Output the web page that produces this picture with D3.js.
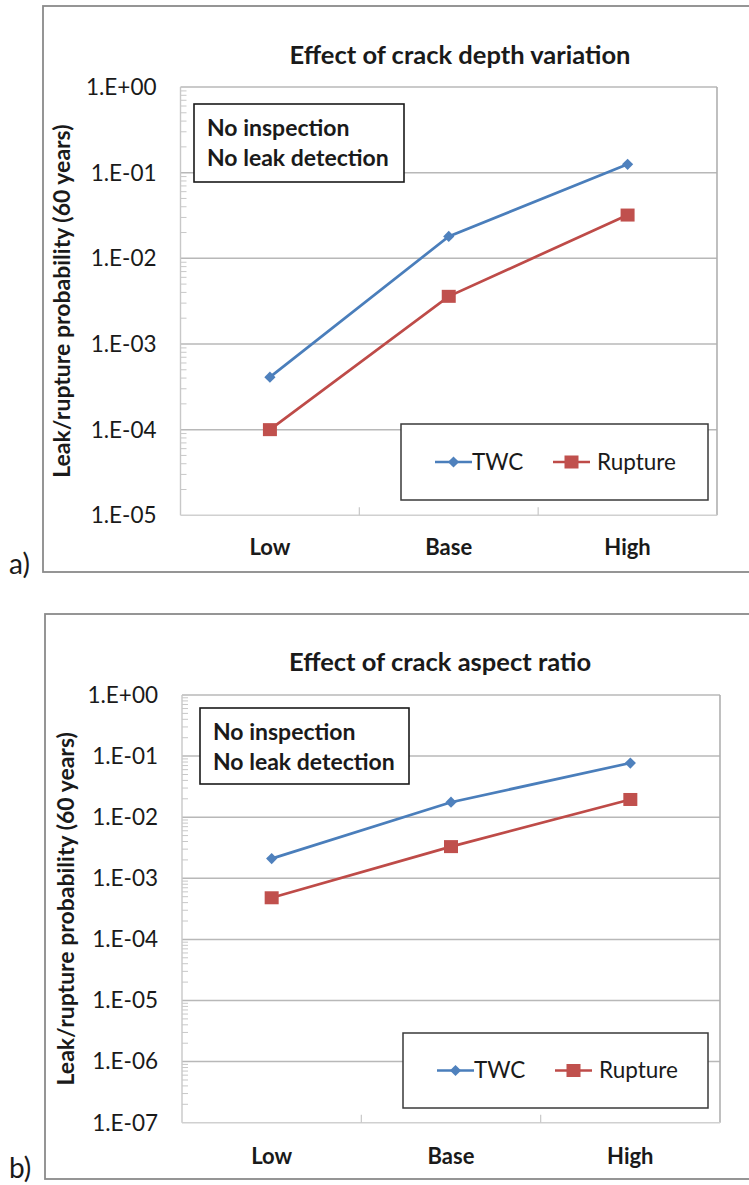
<!DOCTYPE html>
<html>
<head>
<meta charset="utf-8">
<script src="https://cdn.jsdelivr.net/npm/d3@7"></script>
<style>
  html, body { margin: 0; padding: 0; background: #fff; }
  svg { display: block; }
  text { font-family: Lato, "Open Sans", sans-serif; fill: #1a1a1a; }
</style>
</head>
<body>
<svg id="chart" width="749" height="1185"></svg>
<script>
// ---- data ----
const categories = ["Low", "Base", "High"];
const seriesNames = ["TWC", "Rupture"];

// a) Effect of crack depth variation
const twcDepth = [4.1e-4, 1.8e-2, 0.125];
const ruptureDepth = [1.0e-4, 3.6e-3, 0.032];
const yTicksA = [1, 1e-1, 1e-2, 1e-3, 1e-4, 1e-5];
const yLabelsA = ["1.E+00", "1.E-01", "1.E-02", "1.E-03", "1.E-04", "1.E-05"];

// b) Effect of crack aspect ratio
const twcAspect = [2.1e-3, 1.76e-2, 0.077];
const ruptureAspect = [4.8e-4, 3.3e-3, 0.0195];
const yTicksB = [1, 1e-1, 1e-2, 1e-3, 1e-4, 1e-5, 1e-6, 1e-7];
const yLabelsB = ["1.E+00", "1.E-01", "1.E-02", "1.E-03", "1.E-04", "1.E-05", "1.E-06", "1.E-07"];

const titles = ["Effect of crack depth variation", "Effect of crack aspect ratio"];
const yAxisTitle = "Leak/rupture probability (60 years)";
const noteLines = ["No inspection", "No leak detection"];
const panelLabels = ["a)", "b)"];

const colors = {
  twcLine: "#4a7ebb", twcMarker: "#4f81bd",
  rupLine: "#be4b48", rupMarker: "#c0504d"
};

const svg = d3.select("#chart");

function drawChart(cfg) {
  const g = svg.append("g");
  // outer frame
  g.append("rect")
    .attr("x", cfg.frame.x).attr("y", cfg.frame.y)
    .attr("width", cfg.frame.w).attr("height", cfg.frame.h)
    .attr("fill", "#fff").attr("stroke", "#8a8a8a").attr("stroke-width", 1.8);

  const x = d3.scaleBand().domain(categories).range([cfg.plot.left, cfg.plot.right]);
  const y = d3.scaleLog().domain([cfg.yTicks[cfg.yTicks.length - 1], cfg.yTicks[0]])
    .range([cfg.plot.bottom, cfg.plot.top]);

  // gridlines
  g.append("g").selectAll("line").data(cfg.yTicks.slice(0, -1)).join("line")
    .attr("x1", cfg.plot.left).attr("x2", cfg.plot.right)
    .attr("y1", d => y(d)).attr("y2", d => y(d))
    .attr("stroke", "#b8b8b8").attr("stroke-width", 1.5);

  // plot right border & axes
  g.append("line").attr("x1", cfg.plot.right).attr("x2", cfg.plot.right)
    .attr("y1", cfg.plot.top).attr("y2", cfg.plot.bottom)
    .attr("stroke", "#b0b0b0").attr("stroke-width", 1.6);
  g.append("line").attr("x1", cfg.plot.left).attr("x2", cfg.plot.left)
    .attr("y1", cfg.plot.top).attr("y2", cfg.plot.bottom)
    .attr("stroke", "#c8c8c8").attr("stroke-width", 1.4);
  g.append("line").attr("x1", cfg.plot.left).attr("x2", cfg.plot.right)
    .attr("y1", cfg.plot.bottom).attr("y2", cfg.plot.bottom)
    .attr("stroke", "#d0d0d0").attr("stroke-width", 1.6);

  // minor log ticks on y axis
  const minor = [];
  for (let i = 1; i < cfg.yTicks.length; i++) {
    const base = cfg.yTicks[i];
    for (let k = 2; k <= 9; k++) minor.push(base * k);
  }
  g.append("g").selectAll("line").data(minor).join("line")
    .attr("x1", cfg.plot.left).attr("x2", cfg.plot.left + 6)
    .attr("y1", d => y(d)).attr("y2", d => y(d))
    .attr("stroke", "#c8c8c8").attr("stroke-width", 1);

  // x-axis category separator ticks
  const seps = [categories[1], categories[2]];
  g.append("g").selectAll("line").data(seps).join("line")
    .attr("x1", d => x(d)).attr("x2", d => x(d))
    .attr("y1", cfg.plot.bottom - 8).attr("y2", cfg.plot.bottom)
    .attr("stroke", "#c8c8c8").attr("stroke-width", 1.2);

  // y tick labels
  g.append("g").selectAll("text").data(cfg.yTicks).join("text")
    .attr("x", cfg.plot.left - 24).attr("y", d => y(d))
    .attr("dy", "0.35em").attr("text-anchor", "end")
    .attr("font-size", 22.5)
    .text((d, i) => cfg.yLabels[i]);

  // x labels
  g.append("g").selectAll("text").data(categories).join("text")
    .attr("x", d => x(d) + x.bandwidth() / 2).attr("y", cfg.xLabelY)
    .attr("dy", "0.35em").attr("text-anchor", "middle")
    .attr("font-size", 22).attr("font-weight", "bold")
    .text(d => d);

  // title
  g.append("text").attr("x", cfg.titleX).attr("y", cfg.titleY)
    .attr("dy", "0.35em").attr("text-anchor", "middle")
    .attr("font-size", 25.5).attr("font-weight", "bold")
    .text(cfg.title);

  // y axis title
  g.append("text")
    .attr("transform", `translate(${cfg.yTitleX},${(cfg.plot.top + cfg.plot.bottom) / 2}) rotate(-90)`)
    .attr("dy", "0.35em").attr("text-anchor", "middle")
    .attr("font-size", 23).attr("font-weight", "bold")
    .text(yAxisTitle);

  // lines and markers
  const line = d3.line().x((d, i) => x(categories[i]) + x.bandwidth() / 2).y(d => y(d));
  g.append("path").datum(cfg.twc).attr("d", line)
    .attr("fill", "none").attr("stroke", colors.twcLine).attr("stroke-width", 2.7);
  g.append("path").datum(cfg.rup).attr("d", line)
    .attr("fill", "none").attr("stroke", colors.rupLine).attr("stroke-width", 2.7);

  const diamond = d3.symbol().type(d3.symbolDiamond2).size(80);
  g.append("g").selectAll("path").data(cfg.twc).join("path")
    .attr("d", diamond)
    .attr("transform", (d, i) => `translate(${x(categories[i]) + x.bandwidth() / 2},${y(d)})`)
    .attr("fill", colors.twcMarker);
  g.append("g").selectAll("rect").data(cfg.rup).join("rect")
    .attr("x", (d, i) => x(categories[i]) + x.bandwidth() / 2 - 7)
    .attr("y", d => y(d) - 6.5)
    .attr("width", 14).attr("height", 13)
    .attr("fill", colors.rupMarker);

  // note box
  const nb = cfg.note;
  g.append("rect").attr("x", nb.x).attr("y", nb.y).attr("width", nb.w).attr("height", nb.h)
    .attr("fill", "#fff").attr("stroke", "#1a1a1a").attr("stroke-width", 1.6);
  g.append("g").selectAll("text").data(noteLines).join("text")
    .attr("x", nb.x + 13).attr("y", (d, i) => nb.y + 24 + i * 29.5)
    .attr("dy", "0.35em").attr("font-size", 23).attr("font-weight", "bold")
    .text(d => d);

  // legend box
  const lb = cfg.legend;
  g.append("rect").attr("x", lb.x).attr("y", lb.y).attr("width", lb.w).attr("height", lb.h)
    .attr("fill", "#fff").attr("stroke", "#3a3a3a").attr("stroke-width", 1.5);
  const ly = lb.y + lb.h / 2;
  const items = [
    { name: seriesNames[0], x0: lb.x + 34, line: colors.twcLine, marker: colors.twcMarker, type: "diamond", tx: lb.x + 71 },
    { name: seriesNames[1], x0: lb.x + 152, line: colors.rupLine, marker: colors.rupMarker, type: "square", tx: lb.x + 196 }
  ];
  items.forEach(it => {
    g.append("line").attr("x1", it.x0).attr("x2", it.x0 + 37).attr("y1", ly).attr("y2", ly)
      .attr("stroke", it.line).attr("stroke-width", 2.7);
    if (it.type === "diamond") {
      g.append("path").attr("d", diamond).attr("transform", `translate(${it.x0 + 18.5},${ly})`)
        .attr("fill", it.marker);
    } else {
      g.append("rect").attr("x", it.x0 + 11.5).attr("y", ly - 6.5).attr("width", 14).attr("height", 13)
        .attr("fill", it.marker);
    }
    g.append("text").attr("x", it.tx).attr("y", ly).attr("dy", "0.35em")
      .attr("font-size", 22.5).text(it.name);
  });

  // panel label
  g.append("text").attr("x", 9).attr("y", cfg.panelY)
    .attr("font-family", "'Liberation Serif', 'DejaVu Serif', serif")
    .attr("font-size", 28).text(cfg.panel);
}

drawChart({
  frame: { x: 43, y: 6, w: 720, h: 566 },
  plot: { left: 180.5, right: 717, top: 87, bottom: 515.3 },
  yTicks: yTicksA, yLabels: yLabelsA,
  twc: twcDepth, rup: ruptureDepth,
  title: titles[0], titleX: 460, titleY: 55,
  yTitleX: 62, xLabelY: 547,
  note: { x: 194, y: 104, w: 210, h: 78 },
  legend: { x: 401, y: 424, w: 307, h: 76 },
  panel: panelLabels[0], panelY: 574
});

drawChart({
  frame: { x: 45, y: 614, w: 720, h: 565 },
  plot: { left: 182, right: 720, top: 695, bottom: 1122.7 },
  yTicks: yTicksB, yLabels: yLabelsB,
  twc: twcAspect, rup: ruptureAspect,
  title: titles[1], titleX: 440, titleY: 662,
  yTitleX: 66, xLabelY: 1156,
  note: { x: 200, y: 708, w: 209, h: 76 },
  legend: { x: 403, y: 1033, w: 305, h: 75 },
  panel: panelLabels[1], panelY: 1178
});
</script>
</body>
</html>
